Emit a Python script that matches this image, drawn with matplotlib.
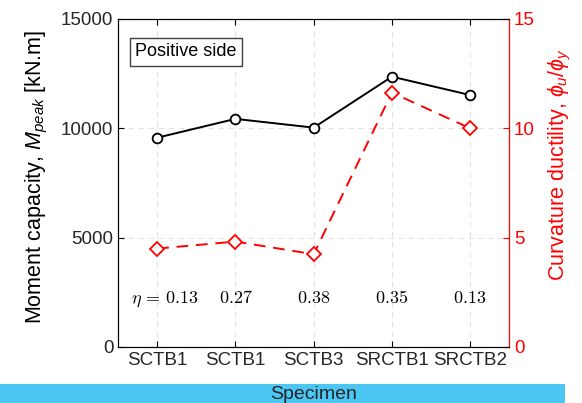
import numpy as np
import matplotlib
matplotlib.use("Agg")
import matplotlib.pyplot as plt
from matplotlib.patches import Rectangle

plt.rcParams['font.family'] = ['Liberation Sans', 'DejaVu Sans']
plt.rcParams['mathtext.fontset'] = 'custom'
plt.rcParams['mathtext.rm'] = 'Liberation Sans'
plt.rcParams['mathtext.it'] = 'Liberation Sans:italic'

# Data
specimens = ['SCTB1', 'SCTB1', 'SCTB3', 'SRCTB1', 'SRCTB2']
m_peak = [9570, 10430, 10030, 12360, 11520]
ductility = [4.50, 4.82, 4.24, 11.63, 10.0]
eta_labels = [r'$\eta\,=\,0.13$', r'$0.27$', r'$0.38$', r'$0.35$', r'$0.13$']

x = np.arange(1, len(specimens) + 1)
gray = '#262626'

fig = plt.figure(figsize=(5.82, 4.03), dpi=100)

ax = fig.add_axes([0.203, 0.139, 0.672, 0.814])
ax2 = ax.twinx()

# Moment capacity
ax.plot(x, m_peak, color='black', lw=1.4, marker='o', ms=7,
        mfc='white', mec='black', mew=1.3, zorder=3)
ax.set_xlim(0.5, 5.5)
ax.set_ylim(0, 15000)
ax.set_yticks([0, 5000, 10000, 15000])
ax.set_xticks(x)
ax.set_xticklabels(specimens)
ax.grid(True, color='#e3e3e3', ls=(0, (5, 4)), lw=0.8)
ax.tick_params(axis='both', direction='in', length=4, labelsize=13.5,
               labelcolor=gray, top=True)
ax.set_ylabel(r'Moment capacity, $M_{peak}$ [kN.m]', fontsize=15.5, color='black')
ax.yaxis.set_label_coords(-0.175, 0.52)

# Curvature ductility
ax2.plot(x, ductility, color='red', lw=1.4, ls=(0, (6, 4)), marker='D', ms=7,
         mfc='white', mec='red', mew=1.3, zorder=3)
ax2.set_ylim(0, 15)
ax2.set_yticks([0, 5, 10, 15])
ax2.tick_params(axis='y', direction='in', length=4, labelsize=13.5,
                colors='red')
ax2.spines['right'].set_color('red')
ax2.set_ylabel(r'Curvature ductility, $\phi_u/\phi_y$', fontsize=15.5,
               color='red', rotation=90)
ax2.yaxis.set_label_coords(1.095, 0.555)

# axial load ratio labels
for i, lab in enumerate(eta_labels):
    xp = x[i] + (0.1 if i == 0 else 0)
    ax.text(xp, 2200, lab, ha='center', va='center', fontsize=13,
            math_fontfamily='cm', color='black')

ax.text(0.173, 0.90, 'Positive side', transform=ax.transAxes, ha='center',
        va='center', fontsize=13, color='black',
        bbox=dict(boxstyle='square,pad=0.3', fc='white', ec='#404040', lw=1))

# light blue strip with the x label on top of it
fig.add_artist(Rectangle((0, 0), 565 / 582, 0.046, transform=fig.transFigure,
                         facecolor='#4cc6f2', edgecolor='none', zorder=5))
fig.text(313.5 / 582, 0.022, 'Specimen', ha='center', va='center',
         fontsize=14, color=gray, zorder=6)

fig.savefig('out.png', dpi=100)
